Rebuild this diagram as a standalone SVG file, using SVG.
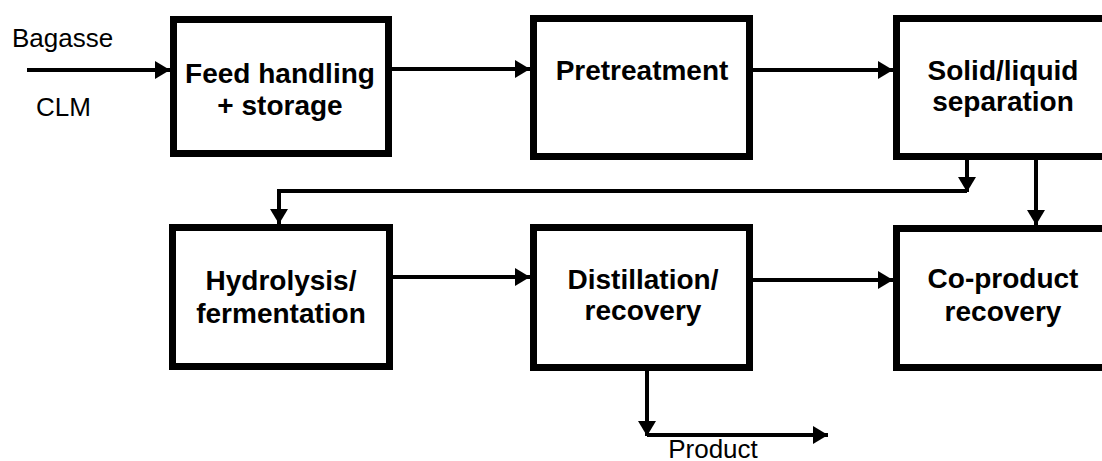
<svg xmlns="http://www.w3.org/2000/svg" width="1102" height="461" viewBox="0 0 1102 461">
<style>
.box{fill:#fff;stroke:#000;stroke-width:7}
.t{font-family:"Liberation Sans",Arial,sans-serif;font-size:28px;font-weight:bold;text-anchor:middle;fill:#000}
.l{font-family:"Liberation Sans",Arial,sans-serif;font-size:26px;fill:#000}
.c{fill:none;stroke:#000;stroke-width:4}
</style>
<defs>
<marker id="ah" markerUnits="userSpaceOnUse" markerWidth="15" markerHeight="18" refX="15" refY="9" orient="auto">
<path d="M0,0 L15,9 L0,18 z" fill="#000"/>
</marker>
</defs>
<g id="connectors">
<line class="c" x1="27" y1="70" x2="170" y2="70" marker-end="url(#ah)"/>
<line class="c" x1="392" y1="69" x2="530" y2="69" marker-end="url(#ah)"/>
<line class="c" x1="753" y1="70" x2="893" y2="70" marker-end="url(#ah)"/>
<line class="c" x1="967" y1="160" x2="967" y2="192" marker-end="url(#ah)"/>
<polyline class="c" points="967,191 279,191 279,224" marker-end="url(#ah)"/>
<line class="c" x1="1036" y1="160" x2="1036" y2="225" marker-end="url(#ah)"/>
<line class="c" x1="393" y1="277" x2="530" y2="277" marker-end="url(#ah)"/>
<line class="c" x1="753" y1="280" x2="893" y2="280" marker-end="url(#ah)"/>
<polyline class="c" points="647,371 647,436" marker-end="url(#ah)"/>
<line class="c" x1="647" y1="435" x2="828" y2="435" marker-end="url(#ah)"/>
</g>
<g id="labels">
<text class="l" x="12" y="47">Bagasse</text>
<text class="l" x="36" y="116">CLM</text>
<text class="l" x="713" y="458" text-anchor="middle">Product</text>
</g>
<g id="feed">
<rect class="box" x="173.5" y="19.5" width="215" height="134"/>
<text class="t" x="280" y="83">Feed handling</text>
<text class="t" x="280" y="115">+ storage</text>
</g>
<g id="pretreatment">
<rect class="box" x="533.5" y="18.5" width="216" height="138"/>
<text class="t" x="642" y="80">Pretreatment</text>
</g>
<g id="solidliquid">
<rect class="box" x="896.5" y="18.5" width="216" height="138"/>
<text class="t" x="1003" y="80">Solid/liquid</text>
<text class="t" x="1003" y="111">separation</text>
</g>
<g id="hydrolysis">
<rect class="box" x="172.5" y="227.5" width="217" height="139"/>
<text class="t" x="281" y="290">Hydrolysis/</text>
<text class="t" x="281" y="323">fermentation</text>
</g>
<g id="distillation">
<rect class="box" x="533.5" y="227.5" width="216" height="140"/>
<text class="t" x="643" y="289">Distillation/</text>
<text class="t" x="643" y="320">recovery</text>
</g>
<g id="coproduct">
<rect class="box" x="896.5" y="228.5" width="216" height="139"/>
<text class="t" x="1003" y="288">Co-product</text>
<text class="t" x="1003" y="321">recovery</text>
</g>
</svg>
